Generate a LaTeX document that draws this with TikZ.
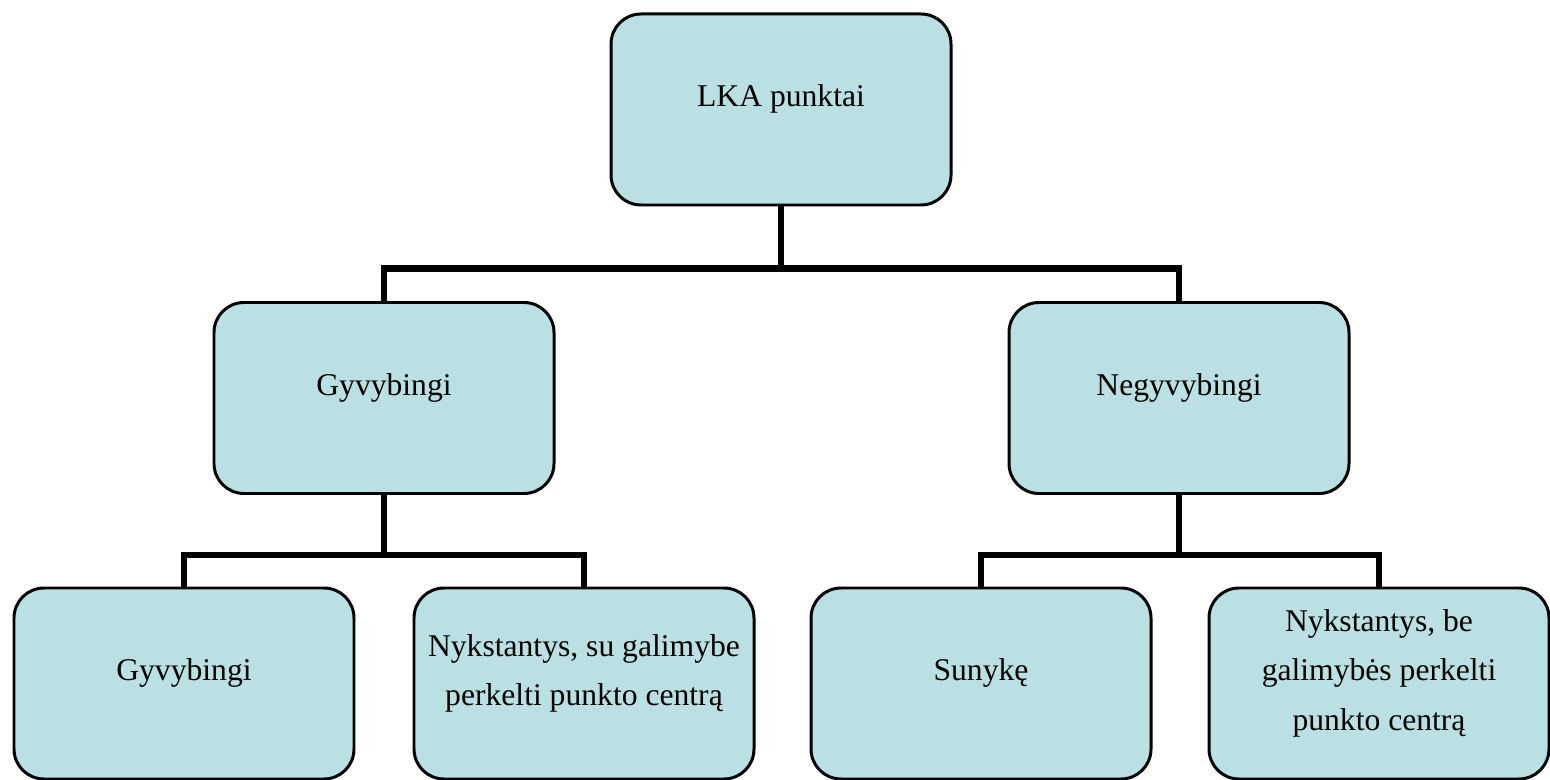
\documentclass[tikz,border=0pt]{standalone}
\usepackage{fontspec}
\setmainfont{Liberation Serif}
\usetikzlibrary{backgrounds}

\definecolor{boxblue}{RGB}{187,224,227}

\begin{document}
\begin{tikzpicture}[
	box/.style={draw=black, line width=1.7pt, fill=boxblue, rounded corners=0.6cm,
		minimum width=6.8cm, minimum height=3.82cm, align=center, text depth=0.54cm,
		font=\fontsize{18}{28}\selectfont},
	conn/.style={draw=black, line width=3.6pt}]

\useasboundingbox (0,0) rectangle (31,-15.6);

% la caixa de dalt
\node [box] (LKA) at (15.62, -2.19) {LKA punktai};
%%%%%%%%%%%%%%%%%%%%%%%%%%%%%%%%%%%%%%%%%%%%%%%%%%%%%%%%%%%%%%%%%%%%%%%%%%%%%%%%
\node [box] (Gyv)	at (7.68, -7.96)	{Gyvybingi};
\node [box] (Negyv)	at (23.58, -7.96)	{Negyvybingi};
%%%%%%%%%%%%%%%%%%%%%%%%%%%%%%%%%%%%%%%%%%%%%%%%%%%%%%%%%%%%%%%%%%%%%%%%%%%%%%%%
\node [box] (GyvG)	at (3.68, -13.67)	{Gyvybingi};
\node [box] (GyvN)	at (11.68, -13.67)	{Nykstantys, su galimybe\\perkelti punkto centrą};
\node [box] (NegS)	at (19.62, -13.67)	{Sunykę};
\node [box] (NegN)	at (27.58, -13.67)	{Nykstantys, be\\galimybės perkelti\\punkto centrą};
%%%%%%%%%%%%%%%%%%%%%%%%%%%%%%%%%%%%%%%%%%%%%%%%%%%%%%%%%%%%%%%%%%%%%%%%%%%%%%%%

%%%%%%%%%%%%%%%%%%%%%%%%%%%%%%%%%%%%%%%%%%%%%%%%%%%%%%%%%%%%%%%%%%%%%%%%%%%%%%%%
% Connexions
%%%%%%%%%%%%%%%%%%%%%%%%%%%%%%%%%%%%%%%%%%%%%%%%%%%%%%%%%%%%%%%%%%%%%%%%%%%%%%%%
\begin{pgfonlayer}{background}
\draw [conn] (LKA.south)	-- ++(0,-1.24) -| (Gyv.north);
\draw [conn] (LKA.south)	-- ++(0,-1.24) -| (Negyv.north);

\draw [conn] (Gyv.south)	-- ++(0,-1.2) -| (GyvG.north);
\draw [conn] (Gyv.south)	-- ++(0,-1.2) -| (GyvN.north);

\draw [conn] (Negyv.south)	-- ++(0,-1.2) -| (NegS.north);
\draw [conn] (Negyv.south)	-- ++(0,-1.2) -| (NegN.north);
\end{pgfonlayer}

\end{tikzpicture}
\end{document}
